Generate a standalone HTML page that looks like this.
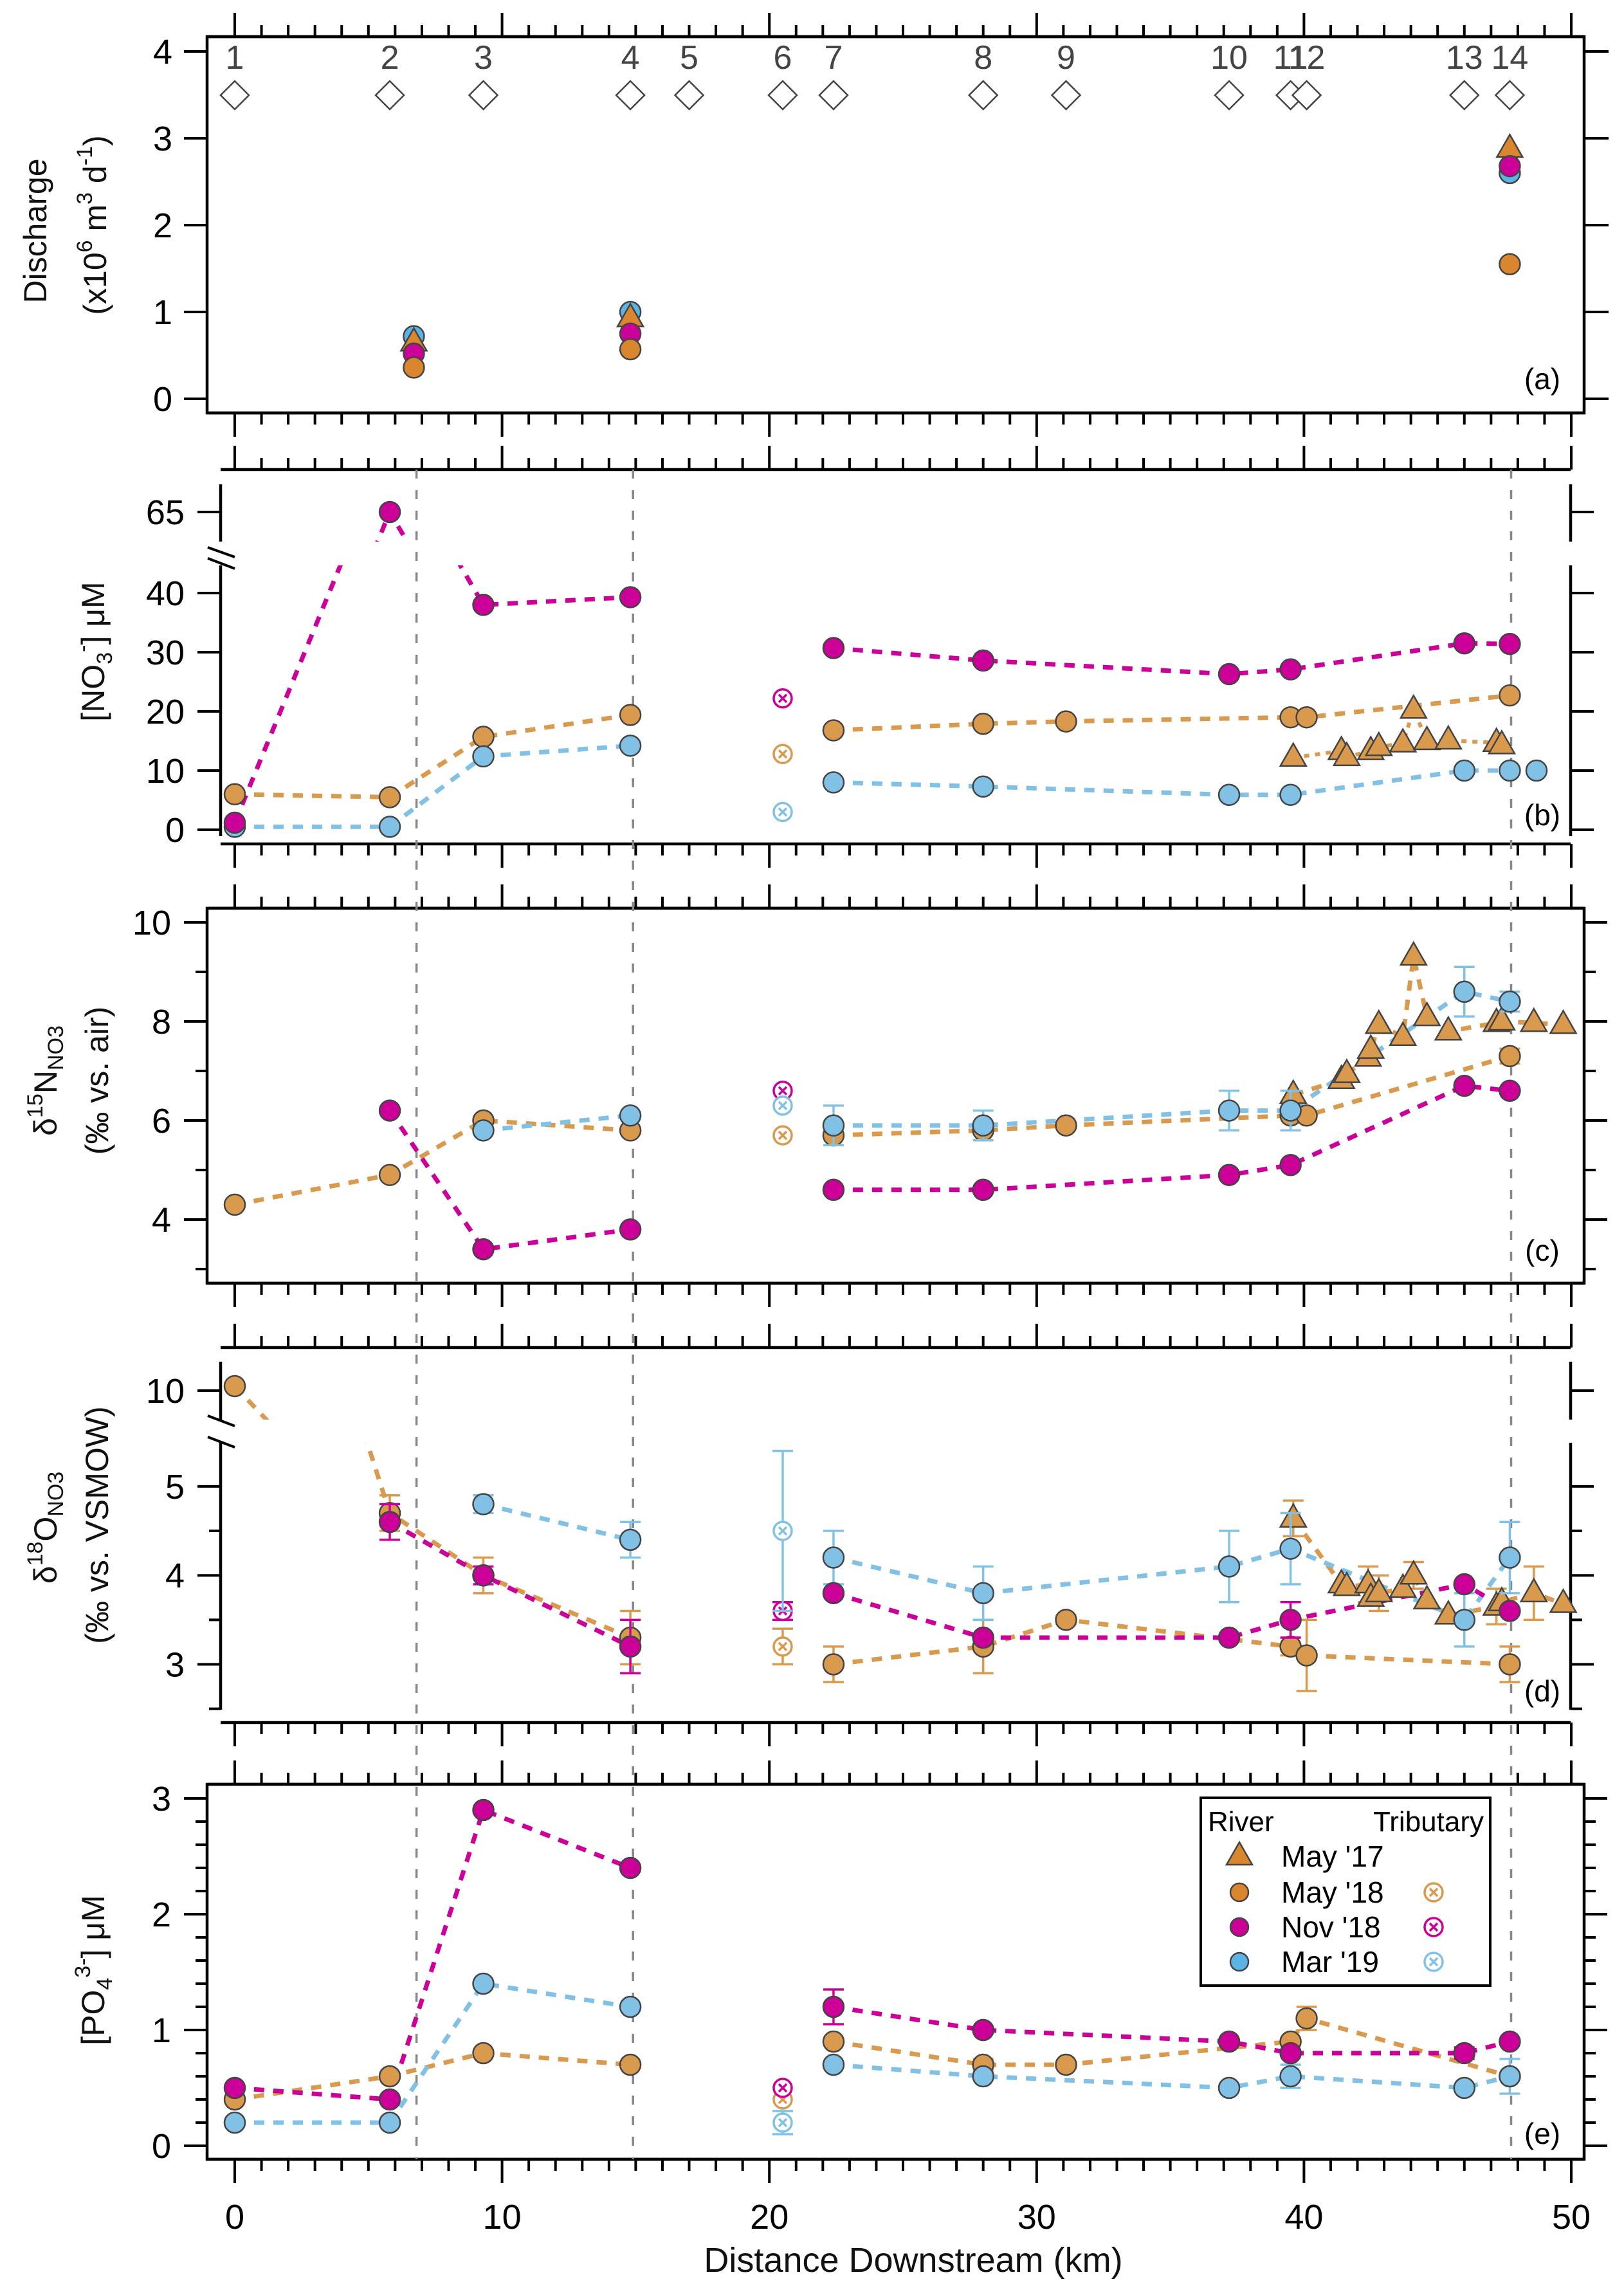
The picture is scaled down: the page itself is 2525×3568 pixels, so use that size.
<!DOCTYPE html>
<html><head><meta charset="utf-8"><style>
html,body{margin:0;padding:0;background:#fff}
svg text{font-family:"Liberation Sans",sans-serif}
</style></head><body>
<svg id="chart" xmlns="http://www.w3.org/2000/svg" width="2525" height="3563" viewBox="0 0 2525 3563">
<rect x="0" y="0" width="2525" height="3563" fill="#fff"/>
<defs>
<clipPath id="clipBL"><rect x="322" y="879" width="2141" height="440"/></clipPath>
<clipPath id="clipBU"><rect x="322" y="753" width="2141" height="89"/></clipPath>
<clipPath id="clipDL"><rect x="322" y="2243" width="2141" height="430"/></clipPath>
<clipPath id="clipDU"><rect x="322" y="2117" width="2141" height="90"/></clipPath>
</defs>
<g id="axes"></g>
<g id="lines"></g>
<g id="marks"></g>
<g id="txt"></g>
</svg>
<script>
// ---------- data ----------
const siteKm = [0, 5.8, 9.3, 14.8, 17.0, 20.5, 22.4, 28.0, 31.1, 37.2, 39.5, 40.1, 46.0, 47.7];
const siteLabels = ["1","2","3","4","5","6","7","8","9","10","11","12","13","14"];
const divideKm = [6.8, 14.9, 47.75];
const xTickLabels = [0, 10, 20, 30, 40, 50];

// (a) discharge
const aKm = [6.7, 14.8, 47.7];
const aMay17 = [0.65, 0.93, 2.88];
const aMay18 = [0.36, 0.57, 1.55];
const aNov18 = [0.52, 0.75, 2.68];
const aMar19 = [0.72, 1.0, 2.6];

// (b) NO3
const bMay18Km = [0, 5.8, 9.3, 14.8, 22.4, 28.0, 31.1, 39.5, 40.1, 47.7];
const bMay18 = [6.0, 5.5, 15.7, 19.4, 16.8, 17.9, 18.3, 19.0, 19.0, 22.7];
const bNov18Km = [0, 5.8, 9.3, 14.8, 22.4, 28.0, 37.2, 39.5, 46.0, 47.7];
const bNov18 = [1.2, 65, 38, 39.3, 30.7, 28.6, 26.3, 27.1, 31.5, 31.4];
const bMar19Km = [0, 5.8, 9.3, 14.8, 22.4, 28.0, 37.2, 39.5, 46.0, 47.7, 48.7];
const bMar19 = [0.5, 0.5, 12.4, 14.2, 8.0, 7.3, 5.9, 5.9, 10.0, 10.0, 10.0];
const bMay17Km = [39.6, 41.4, 41.6, 42.5, 42.8, 43.7, 44.1, 44.6, 45.4, 47.2, 47.4];
const bMay17 = [12.2, 13.3, 12.3, 13.3, 14.0, 14.6, 20.3, 15.0, 15.1, 14.7, 14.3];
const bTrib = [12.8, 22.2, 3.0]; // May18, Nov18, Mar19

// (c) d15N
const cMay18Km = [0, 5.8, 9.3, 14.8, 22.4, 28.0, 31.1, 39.5, 40.1, 47.7];
const cMay18 = [4.3, 4.9, 6.0, 5.8, 5.7, 5.8, 5.9, 6.1, 6.1, 7.3];
const cMay18Err = [0, 0, 0, 0, 0, 0, 0, 0, 0, 0.15];
const cNov18Km = [5.8, 9.3, 14.8, 22.4, 28.0, 37.2, 39.5, 46.0, 47.7];
const cNov18 = [6.2, 3.4, 3.8, 4.6, 4.6, 4.9, 5.1, 6.7, 6.6];
const cMar19Km = [9.3, 14.8, 22.4, 28.0, 37.2, 39.5, 46.0, 47.7];
const cMar19 = [5.8, 6.1, 5.9, 5.9, 6.2, 6.2, 8.6, 8.4];
const cMar19Err = [0, 0, 0.4, 0.3, 0.4, 0.4, 0.5, 0.2];
const cMay17Km = [39.6, 41.4, 41.6, 42.4, 42.5, 42.8, 43.7, 44.1, 44.6, 45.4, 47.2, 47.4, 48.6, 49.7];
const cMay17 = [6.52, 6.82, 6.94, 7.27, 7.43, 7.93, 7.69, 9.31, 8.09, 7.80, 7.97, 8.0, 7.97, 7.93];
const cTrib = [5.7, 6.6, 6.3];

// (d) d18O
const dMay18Km = [0, 5.8, 9.3, 14.8, 22.4, 28.0, 31.1, 39.5, 40.1, 47.7];
const dMay18 = [10.15, 4.7, 4.0, 3.3, 3.0, 3.2, 3.5, 3.2, 3.1, 3.0];
const dMay18Err = [0, 0.2, 0.2, 0.3, 0.2, 0.3, 0.05, 0.1, 0.4, 0.2];
const dNov18Km = [5.8, 9.3, 14.8, 22.4, 28.0, 37.2, 39.5, 46.0, 47.7];
const dNov18 = [4.6, 4.0, 3.2, 3.8, 3.3, 3.3, 3.5, 3.9, 3.6];
const dNov18Err = [0.2, 0.1, 0.3, 0, 0, 0, 0.2, 0, 0];
const dMar19Km = [9.3, 14.8, 22.4, 28.0, 37.2, 39.5, 46.0, 47.7];
const dMar19 = [4.8, 4.4, 4.2, 3.8, 4.1, 4.3, 3.5, 4.2];
const dMar19Err = [0.1, 0.2, 0.3, 0.3, 0.4, 0.4, 0.3, 0.4];
const dMay17Km = [39.6, 41.4, 41.6, 42.4, 42.5, 42.8, 43.7, 44.1, 44.6, 45.4, 47.2, 47.4, 48.6, 49.7];
const dMay17 = [4.64, 3.9, 3.87, 3.9, 3.75, 3.8, 3.85, 4.0, 3.72, 3.55, 3.65, 3.7, 3.8, 3.68];
const dMay17Err = [0.2, 0, 0, 0.2, 0, 0.2, 0, 0.15, 0, 0, 0.2, 0, 0.3, 0];
const dTrib = [3.2, 3.6, 4.5];
const dTribErr = [0.2, 0.1, 0.9];

// (e) PO4
const eMay18Km = [0, 5.8, 9.3, 14.8, 22.4, 28.0, 31.1, 39.5, 40.1, 47.7];
const eMay18 = [0.4, 0.6, 0.8, 0.7, 0.9, 0.7, 0.7, 0.9, 1.1, 0.6];
const eMay18Err = [0, 0, 0, 0, 0, 0.05, 0, 0, 0.1, 0];
const eNov18Km = [0, 5.8, 9.3, 14.8, 22.4, 28.0, 37.2, 39.5, 46.0, 47.7];
const eNov18 = [0.5, 0.4, 2.9, 2.4, 1.2, 1.0, 0.9, 0.8, 0.8, 0.9];
const eNov18Err = [0, 0, 0.03, 0, 0.15, 0.03, 0, 0, 0.05, 0];
const eMar19Km = [0, 5.8, 9.3, 14.8, 22.4, 28.0, 37.2, 39.5, 46.0, 47.7];
const eMar19 = [0.2, 0.2, 1.4, 1.2, 0.7, 0.6, 0.5, 0.6, 0.5, 0.6];
const eMar19Err = [0, 0, 0, 0, 0, 0, 0, 0.1, 0, 0.15];
const eTrib = [0.4, 0.5, 0.2];
const eTribErr = [0, 0, 0.1];

// ---------- scales ----------
const NS = "http://www.w3.org/2000/svg";
const X0 = 365, KX = 41.56;
const xS = km => X0 + KX * km;
const yA = v => 620 - 135 * v;
const yBL = v => 1290 - 9.2 * v;
const yBU = v => 796 - 9.2 * (v - 65);
const yC = v => 2204 - 77 * v;
const yDL = v => 2587.5 - 138.3 * (v - 3);
const yDU = v => 2162 - 47 * (v - 10);
const yE = v => 3336 - 180 * v;

const OR = "#D99A4E", MG = "#CC0099", BL = "#82C1E6", ORL = "#D9862F", BLL = "#5BB4E5";
const gAx = document.getElementById("axes"), gLn = document.getElementById("lines"),
      gMk = document.getElementById("marks"), gTx = document.getElementById("txt");

function mk(tag, attrs, parent) {
  const e = document.createElementNS(NS, tag);
  for (const k in attrs) e.setAttribute(k, attrs[k]);
  parent.appendChild(e);
  return e;
}
function line(x1, y1, x2, y2, w, name, col) {
  const e = mk("line", {x1, y1, x2, y2, stroke: col || "#000", "stroke-width": w}, gAx);
  
  
  return e;
}
function text(x, y, s, size, anchor, name, col) {
  const e = mk("text", {x, y, "font-size": size, "text-anchor": anchor || "middle", fill: col || "#000"}, gTx);
  e.textContent = s;
  
  
  return e;
}

function xAxis(y, x1, x2, dir, name) {
  line(x1, y, x2, y, 4.5, name);
  for (let k = 0; k <= 50; k++) {
    const len = k % 10 === 0 ? 37 : 18;
    line(xS(k), y, xS(k), y + dir * len, 4, name + "-tick");
  }
}
function yTicks(ax, vals, fn, len, dir, name) {
  vals.forEach(v => line(ax, fn(v), ax + dir * len, fn(v), 4, name));
}

// ----- panel a -----
mk("rect", {x: 322, y: 57, width: 2141, height: 585, fill: "none", stroke: "#000", "stroke-width": 4.5}, gAx);
xAxis(57, 322, 2463, -1, "panel-a-top-axis");
xAxis(642, 322, 2463, 1, "panel-a-bottom-axis");
yTicks(322, [0,1,2,3,4], yA, 36, -1, "panel-a-y-tick");
yTicks(2463, [0,1,2,3,4], yA, 38, 1, "panel-a-y-tick-right");
[0,1,2,3,4].forEach(v => text(268, yA(v) + 19, String(v), 54, "end", "panel-a-y-tick-label"));

// ----- panel b -----
xAxis(730, 343, 2442, -1, "panel-b-top-axis");
xAxis(1312, 343, 2442, 1, "panel-b-bottom-axis");
line(343, 753, 343, 842, 4.5, "panel-b-y-axis-upper");
line(343, 879, 343, 1300, 4.5, "panel-b-y-axis-lower");
line(2442, 753, 2442, 842, 4.5, "panel-b-y-axis-right-upper");
line(2442, 879, 2442, 1300, 4.5, "panel-b-y-axis-right-lower");
yTicks(343, [0,10,20,30,40], yBL, 36, -1, "panel-b-y-tick");
yTicks(343, [65], yBU, 36, -1, "panel-b-y-tick");
yTicks(2442, [0,10,20,30,40], yBL, 36, 1, "panel-b-y-tick-right");
yTicks(2442, [65], yBU, 36, 1, "panel-b-y-tick-right");
[0,10,20,30,40].forEach(v => text(287, yBL(v) + 19, String(v), 54, "end", "panel-b-y-tick-label"));
text(287, yBU(65) + 19, "65", 54, "end", "panel-b-y-tick-label");
line(323, 851, 365, 866, 4, "panel-b-axis-break");
line(323, 868, 365, 884, 4, "panel-b-axis-break");

// ----- panel c -----
mk("rect", {x: 322, y: 1412, width: 2141, height: 583, fill: "none", stroke: "#000", "stroke-width": 4.5}, gAx);
xAxis(1412, 322, 2463, -1, "panel-c-top-axis");
xAxis(1995, 322, 2463, 1, "panel-c-bottom-axis");
yTicks(322, [4,6,8,10], yC, 36, -1, "panel-c-y-tick");
yTicks(322, [3,5,7,9], yC, 18, -1, "panel-c-y-minor-tick");
yTicks(2463, [4,6,8,10], yC, 36, 1, "panel-c-y-tick-right");
yTicks(2463, [3,5,7,9], yC, 18, 1, "panel-c-y-minor-tick-right");
[4,6,8,10].forEach(v => text(266, yC(v) + 19, String(v), 54, "end", "panel-c-y-tick-label"));

// ----- panel d -----
xAxis(2095, 343, 2442, -1, "panel-d-top-axis");
xAxis(2678, 343, 2442, 1, "panel-d-bottom-axis");
line(343, 2117, 343, 2207, 4.5, "panel-d-y-axis-upper");
line(343, 2243, 343, 2658, 4.5, "panel-d-y-axis-lower");
line(2442, 2117, 2442, 2207, 4.5, "panel-d-y-axis-right-upper");
line(2442, 2243, 2442, 2658, 4.5, "panel-d-y-axis-right-lower");
yTicks(343, [3,4,5], yDL, 36, -1, "panel-d-y-tick");
yTicks(343, [2.5,3.5,4.5], yDL, 18, -1, "panel-d-y-minor-tick");
yTicks(343, [10], yDU, 36, -1, "panel-d-y-tick");
yTicks(2442, [3,4,5], yDL, 36, 1, "panel-d-y-tick-right");
yTicks(2442, [2.5,3.5,4.5], yDL, 18, 1, "panel-d-y-minor-tick-right");
yTicks(2442, [10], yDU, 36, 1, "panel-d-y-tick-right");
[3,4,5].forEach(v => text(287, yDL(v) + 19, String(v), 54, "end", "panel-d-y-tick-label"));
text(287, yDU(10) + 19, "10", 54, "end", "panel-d-y-tick-label");
line(323, 2201, 365, 2217, 4, "panel-d-axis-break");
line(323, 2234, 365, 2250, 4, "panel-d-axis-break");

// ----- panel e -----
mk("rect", {x: 322, y: 2774, width: 2141, height: 583, fill: "none", stroke: "#000", "stroke-width": 4.5}, gAx);
xAxis(2774, 322, 2463, -1, "panel-e-top-axis");
xAxis(3357, 322, 2463, 1, "panel-e-bottom-axis");
const eMaj = [0,1,2,3], eMin = [0.2,0.4,0.6,0.8,1.2,1.4,1.6,1.8,2.2,2.4,2.6,2.8];
yTicks(322, eMaj, yE, 36, -1, "panel-e-y-tick");
yTicks(322, eMin, yE, 18, -1, "panel-e-y-minor-tick");
yTicks(2463, eMaj, yE, 36, 1, "panel-e-y-tick-right");
yTicks(2463, eMin, yE, 18, 1, "panel-e-y-minor-tick-right");
eMaj.forEach(v => text(266, yE(v) + 19, String(v), 54, "end", "panel-e-y-tick-label"));
xTickLabels.forEach(v => text(xS(v), 3465, String(v), 54, "middle", "x-tick-label"));

divideKm.forEach(k => {
  const l = line(xS(k), 730, xS(k), 3357, 3.5, "reach-divider-line", "#888");
  l.setAttribute("stroke-dasharray", "14 18");
});

// ---------- series ----------
function segs(kmArr, valArr, fn) {
  let d = "";
  kmArr.forEach((k, i) => {
    const brk = i === 0 || (kmArr[i-1] < 17 && k > 20);
    d += (brk ? "M" : "L") + xS(k).toFixed(1) + " " + fn(valArr[i]).toFixed(1) + " ";
  });
  return d;
}
function drawLine(kmArr, valArr, fn, col, dash, w, clip, name) {
  const p = mk("path", {d: segs(kmArr, valArr, fn), fill: "none", stroke: col, "stroke-width": w, "stroke-dasharray": dash}, gLn);
  if (clip) p.setAttribute("clip-path", "url(#" + clip + ")");
  
  
}
function errBar(x, y1, y2, col, name) {
  const g = mk("g", {stroke: col, "stroke-width": 3.5}, gMk);
  
  
  mk("line", {x1: x, y1: y1, x2: x, y2: y2}, g);
  mk("line", {x1: x - 16, y1: y1, x2: x + 16, y2: y1}, g);
  mk("line", {x1: x - 16, y1: y2, x2: x + 16, y2: y2}, g);
}
function marker(type, cx, cy, col, name, r, parent) {
  r = r || 16;
  parent = parent || gMk;
  let e;
  if (type === "tri") {
    e = mk("polygon", {points: `${cx},${cy-22} ${cx-20},${cy+13} ${cx+20},${cy+13}`, fill: col, stroke: "#444", "stroke-width": 2.5}, parent);
  } else if (type === "trib") {
    e = mk("g", {}, parent);
    mk("circle", {cx, cy, r: 14, fill: "#fff", stroke: col, "stroke-width": 3.5}, e);
    mk("path", {d: `M${cx-6} ${cy-6}L${cx+6} ${cy+6}M${cx+6} ${cy-6}L${cx-6} ${cy+6}`, stroke: col, "stroke-width": 3.5}, e);
  } else {
    e = mk("circle", {cx, cy, r, fill: col, stroke: "#444", "stroke-width": 2.5}, parent);
  }
  
  
}
function series(o) {
  const up = v => (o.yU && v > o.thr) ? o.yU(v) : o.y(v);
  if (o.dash) {
    drawLine(o.km, o.v, o.y, o.lc || o.col, o.dash, o.w || 7, o.clipL, o.name + "-line");
    if (o.yU) drawLine(o.km, o.v, o.yU, o.lc || o.col, o.dash, o.w || 7, o.clipU, o.name + "-line-upper");
  }
  o.km.forEach((k, i) => {
    const v = o.v[i], x = xS(k);
    if (o.err && o.err[i]) errBar(x, up(v + o.err[i]), up(v - o.err[i]), o.lc || o.col, o.name + "-error-bar");
  });
  o.km.forEach((k, i) => marker(o.type, xS(k), up(o.v[i]), o.col, o.name + "-point"));
}
const D = "16 14";
series({km: aKm, v: aMar19, y: yA, col: BLL, type: "c", name: "discharge-mar19"});
series({km: aKm, v: aMay17, y: yA, col: ORL, type: "tri", name: "discharge-may17"});
series({km: aKm, v: aNov18, y: yA, col: MG, type: "c", name: "discharge-nov18"});
series({km: aKm, v: aMay18, y: yA, col: ORL, type: "c", name: "discharge-may18"});
siteKm.forEach((k, i) => {
  text(xS(k), 107, siteLabels[i], 52, "middle", "site-label", "#444");
  const dmd = mk("polygon", {points: `${xS(k)},126 ${xS(k)+22},148 ${xS(k)},170 ${xS(k)-22},148`, fill: "#fff", stroke: "#444", "stroke-width": 2.5}, gMk);
  
  
});

series({km: bMay18Km, v: bMay18, y: yBL, yU: yBU, thr: 50, clipL: "clipBL", clipU: "clipBU", col: OR, type: "c", dash: D, name: "no3-may18"});
series({km: bMar19Km, v: bMar19, y: yBL, yU: yBU, thr: 50, clipL: "clipBL", clipU: "clipBU", col: BL, type: "c", dash: D, name: "no3-mar19"});
series({km: bNov18Km, v: bNov18, y: yBL, yU: yBU, thr: 50, clipL: "clipBL", clipU: "clipBU", col: MG, type: "c", dash: D, name: "no3-nov18"});
series({km: bMay17Km, v: bMay17, y: yBL, col: OR, type: "tri", dash: "8 9", w: 6, name: "no3-may17"});
[OR, MG, BL].forEach((c, i) => marker("trib", xS(20.5), yBL(bTrib[i]), c, "no3-tributary-point"));

series({km: cMay17Km, v: cMay17, y: yC, col: OR, type: "tri", dash: D, name: "d15n-may17"});
series({km: cMay18Km, v: cMay18, err: cMay18Err, y: yC, col: OR, type: "c", dash: D, name: "d15n-may18"});
series({km: cMar19Km, v: cMar19, err: cMar19Err, y: yC, col: BL, type: "c", dash: D, name: "d15n-mar19"});
series({km: cNov18Km, v: cNov18, y: yC, col: MG, type: "c", dash: D, name: "d15n-nov18"});
[OR, MG, BL].forEach((c, i) => marker("trib", xS(20.5), yC(cTrib[i]), c, "d15n-tributary-point"));

series({km: dMay17Km, v: dMay17, err: dMay17Err, y: yDL, col: OR, type: "tri", dash: D, name: "d18o-may17"});
series({km: dMay18Km, v: dMay18, err: dMay18Err, y: yDL, yU: yDU, thr: 7, clipL: "clipDL", clipU: "clipDU", col: OR, type: "c", dash: D, name: "d18o-may18"});
series({km: dMar19Km, v: dMar19, err: dMar19Err, y: yDL, col: BL, type: "c", dash: D, name: "d18o-mar19"});
series({km: dNov18Km, v: dNov18, err: dNov18Err, y: yDL, col: MG, type: "c", dash: D, name: "d18o-nov18"});
[OR, MG, BL].forEach((c, i) => {
  errBar(xS(20.5), yDL(dTrib[i] + dTribErr[i]), yDL(dTrib[i] - dTribErr[i]), c, "d18o-tributary-error-bar");
  marker("trib", xS(20.5), yDL(dTrib[i]), c, "d18o-tributary-point");
});

series({km: eMay18Km, v: eMay18, err: eMay18Err, y: yE, col: OR, type: "c", dash: D, name: "po4-may18"});
series({km: eMar19Km, v: eMar19, err: eMar19Err, y: yE, col: BL, type: "c", dash: D, name: "po4-mar19"});
series({km: eNov18Km, v: eNov18, err: eNov18Err, y: yE, col: MG, type: "c", dash: D, name: "po4-nov18"});
[OR, MG, BL].forEach((c, i) => {
  if (eTribErr[i]) errBar(xS(20.5), yE(eTrib[i] + eTribErr[i]), yE(eTrib[i] - eTribErr[i]), c, "po4-tributary-error-bar");
  marker("trib", xS(20.5), yE(eTrib[i]), c, "po4-tributary-point");
});

[["(a)", 605], ["(b)", 1283], ["(c)", 1960], ["(d)", 2645], ["(e)", 3333]].forEach(p => text(2398, p[1], p[0], 46, "middle", "panel-letter"));

// legend
const lg = mk("g", {}, gTx);


const lr = mk("rect", {x: 1867, y: 2795, width: 450, height: 292, fill: "#fff", stroke: "#000", "stroke-width": 4}, lg);

text(1878, 2847, "River", 44, "start", "legend-river-header");
text(2307, 2847, "Tributary", 44, "end", "legend-tributary-header");
const legNames = ["May '17", "May '18", "Nov '18", "Mar '19"];
const legCols = [ORL, ORL, MG, BLL];
const legTrib = [null, OR, MG, BL];
const legY = [2886, 2942, 2996, 3050];
legNames.forEach((n, i) => {
  marker(i === 0 ? "tri" : "c", 1927, legY[i], legCols[i], "legend-entry-marker", 14, lg);
  if (legTrib[i]) marker("trib", 2229, legY[i], legTrib[i], "legend-entry-tributary-marker", 14, lg);
  text(1992, legY[i] + 16, n, 46, "start", "legend-entry-label");
});
</script>
<svg xmlns="http://www.w3.org/2000/svg" width="2525" height="3563" style="position:absolute;left:0;top:0" font-family="Liberation Sans, sans-serif">
<g fill="#111">
<text transform="translate(72,359) rotate(-90)" font-size="50" text-anchor="middle">Discharge</text>
<text transform="translate(165,350) rotate(-90)" font-size="50" text-anchor="middle">(x10<tspan dy="-22" font-size="34">6</tspan><tspan dy="22"> m</tspan><tspan dy="-22" font-size="34">3</tspan><tspan dy="22"> d</tspan><tspan dy="-22" font-size="34">-1</tspan><tspan dy="22">)</tspan></text>
</g>
<g fill="#111">
<text transform="translate(162,1013) rotate(-90)" font-size="50" text-anchor="middle">[NO<tspan dy="12" font-size="34">3</tspan><tspan dy="-34" font-size="34">-</tspan><tspan dy="22">] μM</tspan></text>
</g>
<g fill="#111">
<text transform="translate(88,1680) rotate(-90)" font-size="50" text-anchor="middle">δ<tspan dy="-22" font-size="34">15</tspan><tspan dy="22">N</tspan><tspan dy="10" font-size="34">NO3</tspan></text>
<text transform="translate(168,1680) rotate(-90)" font-size="50" text-anchor="middle">(‰ vs. air)</text>
</g>
<g fill="#111">
<text transform="translate(88,2375) rotate(-90)" font-size="50" text-anchor="middle">δ<tspan dy="-22" font-size="34">18</tspan><tspan dy="22">O</tspan><tspan dy="10" font-size="34">NO3</tspan></text>
<text transform="translate(168,2371) rotate(-90)" font-size="50" text-anchor="middle">(‰ vs. VSMOW)</text>
</g>
<g fill="#111">
<text transform="translate(162,3063) rotate(-90)" font-size="50" text-anchor="middle">[PO<tspan dy="12" font-size="34">4</tspan><tspan dy="-34" font-size="34">3-</tspan><tspan dy="22">] μM</tspan></text>
</g>
<text x="1420" y="3532" font-size="54" text-anchor="middle" fill="#111">Distance Downstream (km)</text>
</svg>
</body></html>
